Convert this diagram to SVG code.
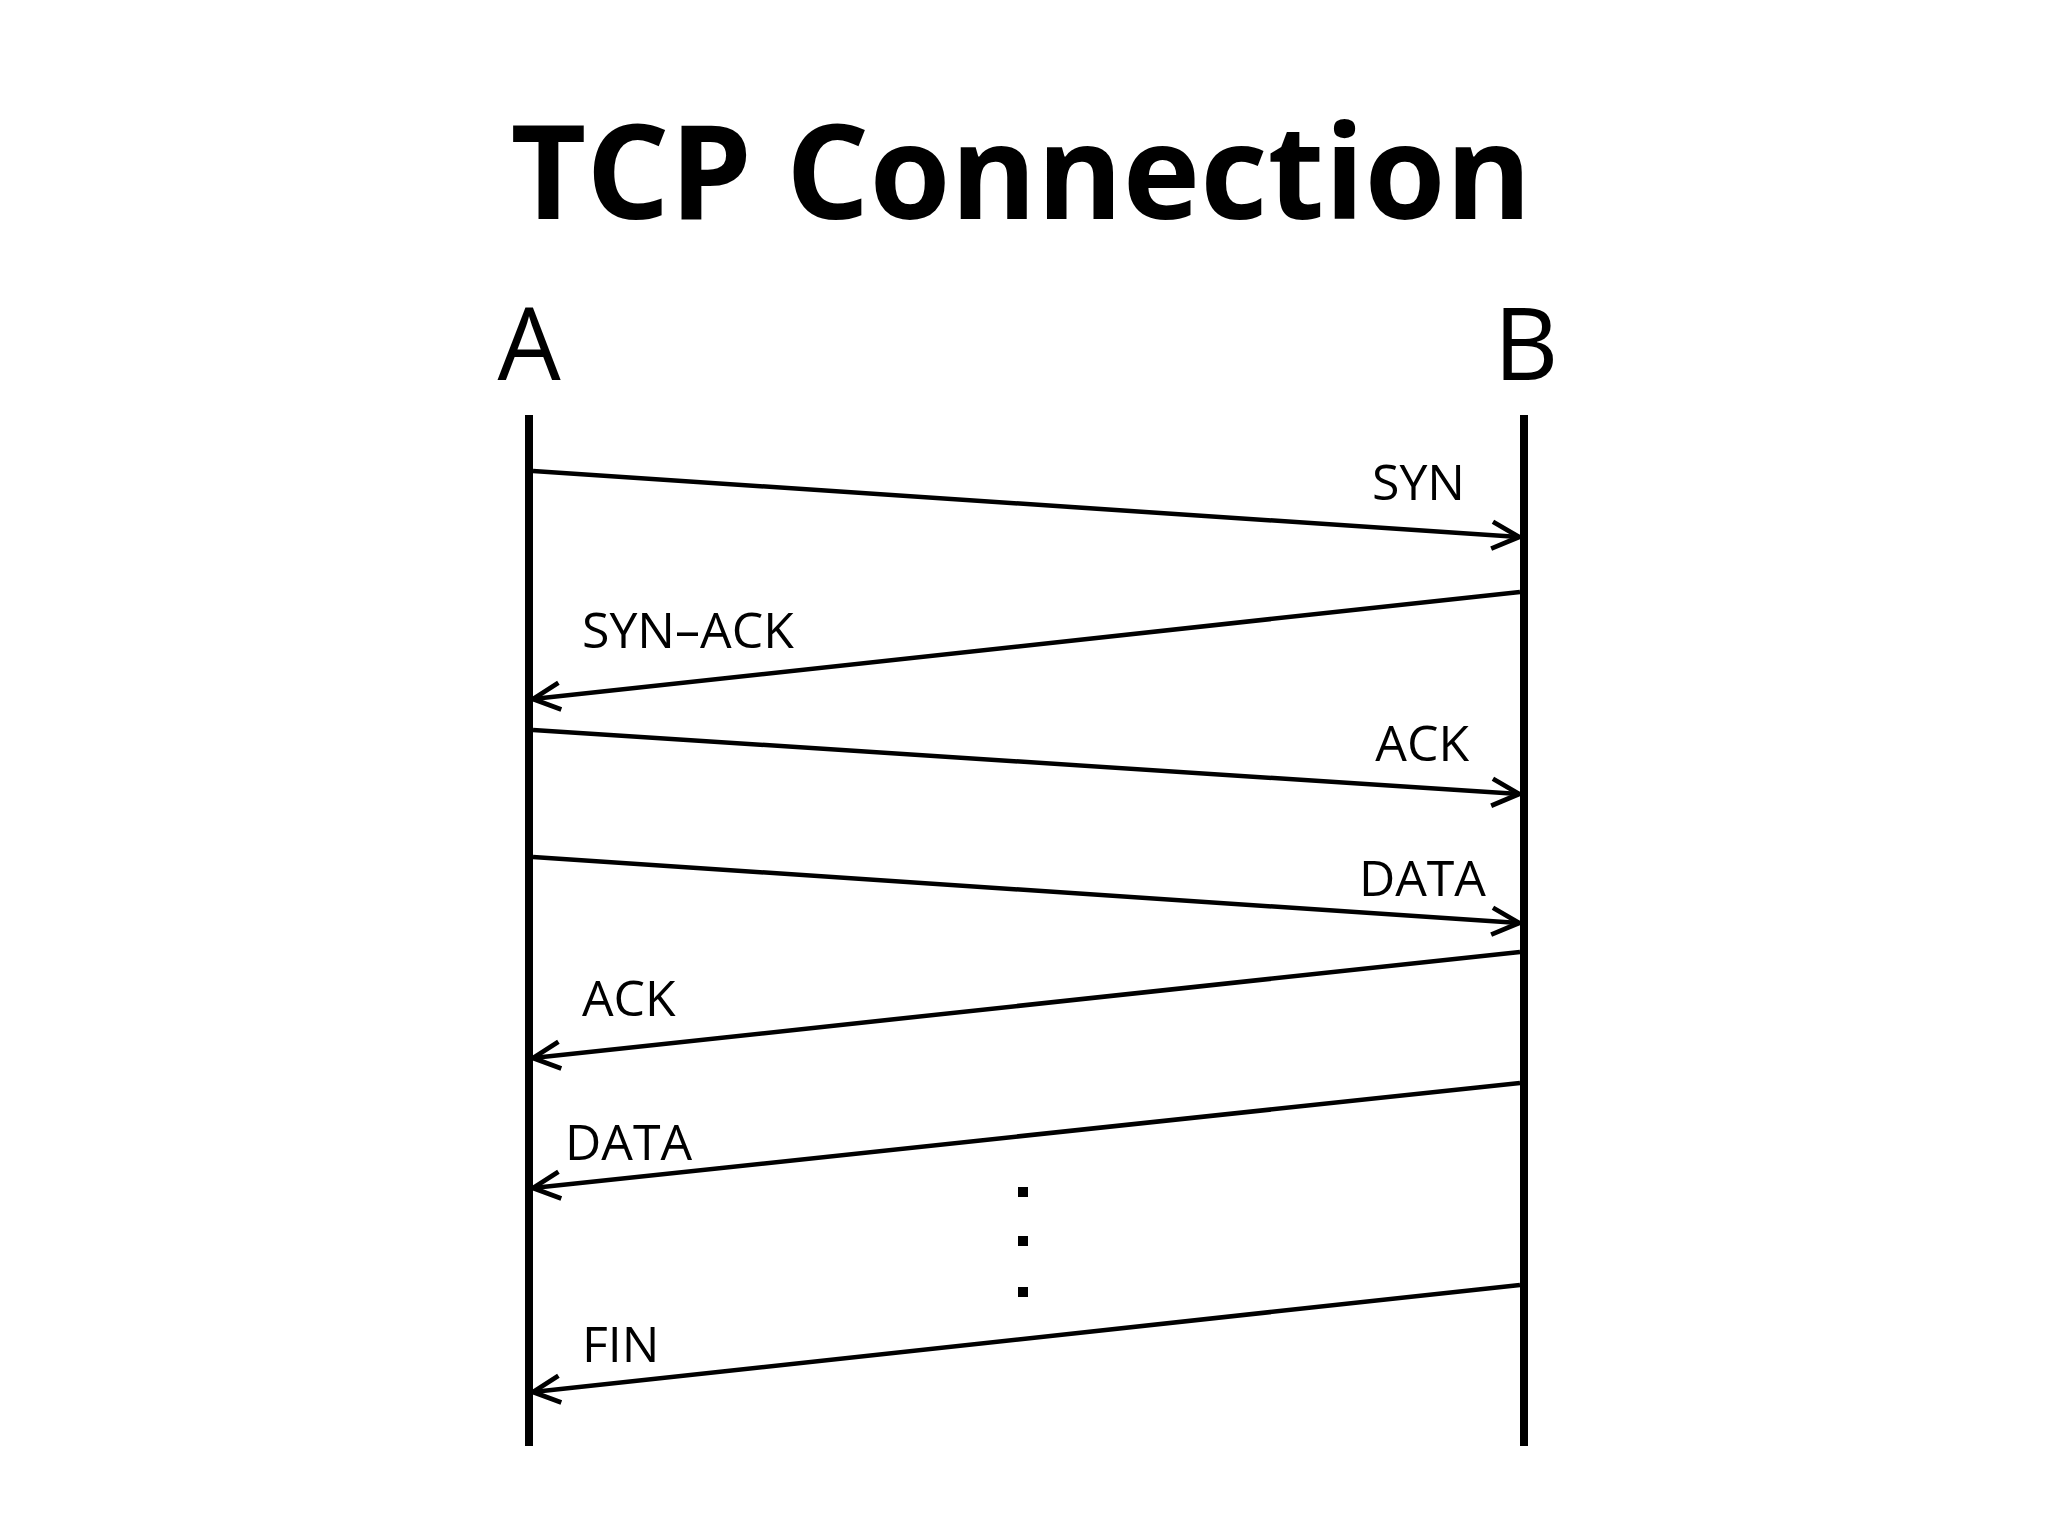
<svg xmlns="http://www.w3.org/2000/svg" width="2048" height="1536" viewBox="0 0 2048 1536">
<style>
.t{font-family:"Open Sans","Noto Sans",sans-serif;fill:#000}
.lab{font-size:50px}
.life{stroke:#000;stroke-width:8}
.msg{stroke:#000;stroke-width:4.5;fill:none;marker-end:url(#ah)}
</style>
<defs>
<marker id="ah" viewBox="0 0 10 10" refX="9" refY="5" markerWidth="7.5" markerHeight="7.5" markerUnits="strokeWidth" orient="auto">
<path d="M1,1 L9,5 L1,9" fill="none" stroke="#000" stroke-width="1.4"/>
</marker>
</defs>
<rect width="2048" height="1536" fill="#fff"/>
<text class="t" x="1021" y="219" font-size="131" font-weight="bold" text-anchor="middle">TCP Connection</text>
<g id="A"><text class="t" x="529" y="380" font-size="100" text-anchor="middle">A</text><line class="life" x1="529" y1="415" x2="529" y2="1446"/></g>
<g id="B"><text class="t" x="1526" y="380" font-size="100" text-anchor="middle">B</text><line class="life" x1="1524" y1="415" x2="1524" y2="1446"/></g>
<g id="connectors">
<line class="msg" x1="533" y1="471" x2="1519" y2="537"/>
<line class="msg" x1="1520" y1="592" x2="533" y2="699"/>
<line class="msg" x1="533" y1="730" x2="1519" y2="794"/>
<line class="msg" x1="533" y1="857" x2="1519" y2="923"/>
<line class="msg" x1="1520" y1="952" x2="533" y2="1058"/>
<line class="msg" x1="1520" y1="1083" x2="533" y2="1188"/>
<line class="msg" x1="1520" y1="1285" x2="533" y2="1392"/>
</g>
<g id="labels">
<text class="t lab" x="1465" y="500" text-anchor="end">SYN</text>
<text class="t lab" x="582" y="648">SYN–ACK</text>
<text class="t lab" x="1469" y="761" text-anchor="end">ACK</text>
<text class="t lab" x="1486" y="896" text-anchor="end">DATA</text>
<text class="t lab" x="582" y="1016">ACK</text>
<text class="t lab" x="565" y="1160">DATA</text>
<text class="t lab" x="582" y="1362">FIN</text>
</g>
<g id="dots" fill="#000">
<rect x="1018" y="1187" width="10" height="10"/>
<rect x="1018" y="1236" width="10" height="10"/>
<rect x="1018" y="1287" width="10" height="10"/>
</g>
</svg>
